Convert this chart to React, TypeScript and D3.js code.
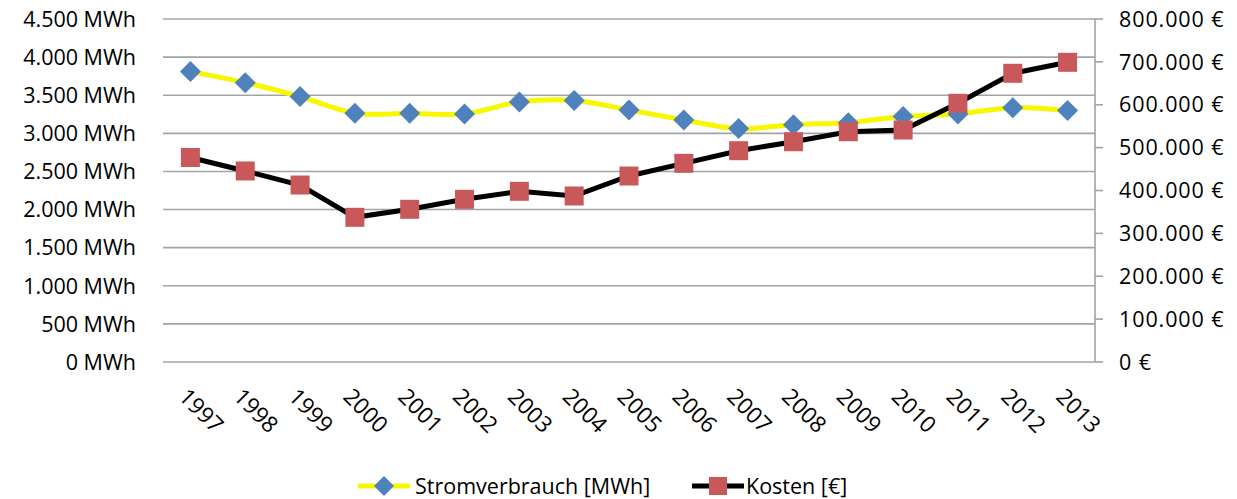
import React from "react";
import * as d3 from "d3";

const years = ["1997","1998","1999","2000","2001","2002","2003","2004","2005","2006","2007","2008","2009","2010","2011","2012","2013"];
const strom = [3810, 3665, 3482, 3264, 3262, 3255, 3412, 3430, 3307, 3176, 3062, 3114, 3140, 3220, 3255, 3337, 3298];
const kosten = [477000, 445500, 412800, 337500, 356100, 379400, 398100, 387200, 433800, 463400, 492800, 513800, 537100, 541100, 603400, 673400, 699000];
const leftTicks = [0, 500, 1000, 1500, 2000, 2500, 3000, 3500, 4000, 4500];
const rightTicks = [0, 100000, 200000, 300000, 400000, 500000, 600000, 700000, 800000];
const seriesNames = ["Stromverbrauch [MWh]", "Kosten [€]"];

const W = 1237, H = 499;
const left = 163, right = 1095, top = 19, bottom = 362;
const FONT = "'Open Sans', 'Liberation Sans', sans-serif";

const fmt = (v: number) => d3.format(",")(v).replace(/,/g, ".");

export default function App() {
  const x = d3.scaleBand<string>().domain(years).range([left, right]);
  const cx = (y: string) => (x(y) as number) + x.bandwidth() / 2;
  const yL = d3.scaleLinear().domain([0, 4500]).range([bottom, top]);
  const yR = d3.scaleLinear().domain([0, 800000]).range([bottom, top]);

  const lineS = d3.line<number>().x((_, i) => cx(years[i])).y((d) => yL(d)).curve(d3.curveCatmullRom.alpha(0.5));
  const lineK = d3.line<number>().x((_, i) => cx(years[i])).y((d) => yR(d));

  const diamond = (px: number, py: number, r = 10.5) => `M${px},${py - r}L${px + r},${py}L${px},${py + r}L${px - r},${py}Z`;
  const sq = 19;
  const blue = "#4f81bd";
  const red = "#c9585a";
  const yellow = "#f7f700";
  const grid = "#a3a3a3";

  return (
    <div style={{ position: "absolute", left: 0, top: 0 }}>
      <svg width={W} height={H} style={{ display: "block", background: "#fff" }} fontFamily={FONT}>
        {leftTicks.map((t) => (
          <line key={"g" + t} x1={left} x2={right} y1={yL(t)} y2={yL(t)} stroke={grid} strokeWidth={1.6} />
        ))}
        <line x1={right} x2={right} y1={top} y2={bottom} stroke={grid} strokeWidth={1.6} />
        {rightTicks.map((t) => (
          <line key={"rt" + t} x1={right} x2={right + 8} y1={yR(t)} y2={yR(t)} stroke={grid} strokeWidth={1.6} />
        ))}
        {leftTicks.map((t) => (
          <text key={"lt" + t} x={136} y={yL(t)} dy="0.36em" textAnchor="end" fontSize={21.5} fill="#000">
            {fmt(t) + " MWh"}
          </text>
        ))}
        {rightTicks.map((t) => (
          <text key={"rl" + t} x={1119} y={yR(t)} dy="0.36em" textAnchor="start" fontSize={21.5} letterSpacing={0.9} fill="#000">
            {fmt(t) + " €"}
          </text>
        ))}
        {years.map((yr) => (
          <text key={"x" + yr} transform={`translate(${cx(yr) - 1},${386}) rotate(45)`} dy="0.75em" textAnchor="start" fontSize={22.5} fill="#000">
            {yr}
          </text>
        ))}
        <path d={lineS(strom) || ""} fill="none" stroke={yellow} strokeWidth={5} />
        {strom.map((v, i) => (
          <path key={"d" + i} d={diamond(cx(years[i]), yL(v))} fill={blue} />
        ))}
        <path d={lineK(kosten) || ""} fill="none" stroke="#000" strokeWidth={5} />
        {kosten.map((v, i) => (
          <rect key={"s" + i} x={cx(years[i]) - sq / 2} y={yR(v) - sq / 2} width={sq} height={sq} fill={red} />
        ))}
        {/* legend */}
        <line x1={358} x2={410} y1={486} y2={486} stroke={yellow} strokeWidth={5} />
        <path d={diamond(384, 486, 10)} fill={blue} />
        <text x={415} y={486} dy="0.36em" fontSize={21.5} fill="#000">{seriesNames[0]}</text>
        <line x1={692} x2={744} y1={486} y2={486} stroke="#000" strokeWidth={5} />
        <rect x={718 - 9} y={486 - 9} width={18} height={18} fill={red} />
        <text x={746} y={486} dy="0.36em" fontSize={21.5} fill="#000">{seriesNames[1]}</text>
      </svg>
    </div>
  );
}
